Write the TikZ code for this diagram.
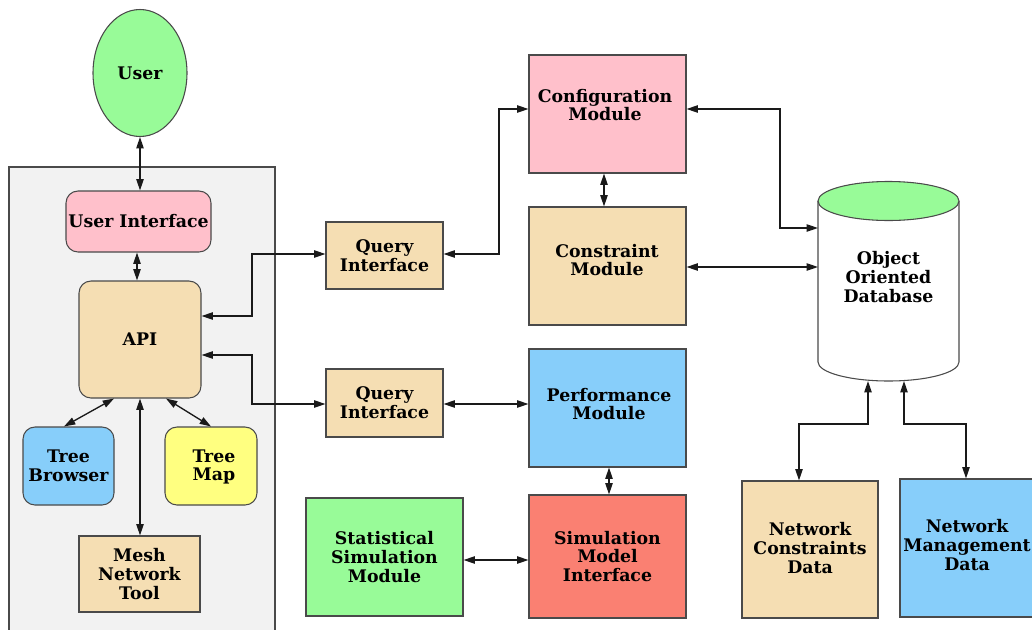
\documentclass[tikz,border=0pt]{standalone}
\usepackage{fontspec}
\setmainfont{DejaVu Serif}
\usetikzlibrary{arrows.meta,shapes.geometric,calc}
\definecolor{cpink}{HTML}{FFC0CB}
\definecolor{cwheat}{HTML}{F5DEB3}
\definecolor{csky}{HTML}{87CEFA}
\definecolor{csalmon}{HTML}{FA8072}
\definecolor{cgreen}{HTML}{98FB98}
\definecolor{cyellow}{HTML}{FFFF80}
\definecolor{cclust}{HTML}{F2F2F2}
\definecolor{cborder}{HTML}{4A4A4A}
\definecolor{cedge}{HTML}{1A1A1A}
\begin{document}
\begin{tikzpicture}[x=0.75pt,y=-0.75pt,
  box/.style={draw=cborder,line width=0.8pt,align=center,inner sep=0pt,
    font=\bfseries\fontsize{13}{14}\selectfont},
  lbl/.style={box,draw=none},
  rbox/.style={box,rounded corners=9pt},
  arr/.style={draw=cedge,line width=1pt,{Triangle[length=8.5pt,width=5.5pt]}-{Triangle[length=8.5pt,width=5.5pt]}}]
\useasboundingbox (0,0) rectangle (1032,629);
% cluster
\draw[draw=cborder,line width=0.8pt,fill=cclust] (9,167) rectangle (275,660);
% nodes
\node[box,ellipse,fill=cgreen,minimum width=94*0.75pt,minimum height=127*0.75pt] (user) at (140,73) {User};
\node[rbox,fill=cpink,minimum width=145*0.75pt,minimum height=61*0.75pt] (ui) at (138.5,221.5) {User Interface};
\node[rbox,fill=cwheat,minimum width=122*0.75pt,minimum height=117*0.75pt] (api) at (140,339.5) {API};
\node[rbox,fill=csky,minimum width=91*0.75pt,minimum height=78*0.75pt] (tb) at (68.5,466) {Tree\\Browser};
\node[rbox,fill=cyellow,minimum width=92*0.75pt,minimum height=78*0.75pt] (tm) at (211,466) {};
\node[lbl] (tmt) at (214,467) {Tree\\Map};
\node[box,fill=cwheat,minimum width=121*0.75pt,minimum height=76*0.75pt] (mesh) at (139.5,574) {Mesh\\Network\\Tool};
\node[box,fill=cwheat,minimum width=117*0.75pt,minimum height=67*0.75pt] (q1) at (384.5,255.5) {Query\\Interface};
\node[box,fill=cwheat,minimum width=117*0.75pt,minimum height=68*0.75pt] (q2) at (384.5,403) {Query\\Interface};
\node[box,fill=cpink,minimum width=157*0.75pt,minimum height=118*0.75pt] (conf) at (607.5,114) {};
\node[lbl] (conft) at (605,105) {Configuration\\Module};
\node[box,fill=cwheat,minimum width=157*0.75pt,minimum height=118*0.75pt] (cons) at (607.5,266) {};
\node[lbl] (const) at (607,260) {Constraint\\Module};
\node[box,fill=csky,minimum width=157*0.75pt,minimum height=118*0.75pt] (perf) at (607.5,408) {};
\node[lbl] (perft) at (609,404) {Performance\\Module};
\node[box,fill=csalmon,minimum width=157*0.75pt,minimum height=123*0.75pt] (sim) at (607.5,556.5) {Simulation\\Model\\Interface};
\node[box,fill=cgreen,minimum width=157*0.75pt,minimum height=118*0.75pt] (stat) at (384.5,557) {Statistical\\Simulation\\Module};
\node[box,fill=cwheat,minimum width=136*0.75pt,minimum height=137*0.75pt] (ncd) at (810,549.5) {};
\node[lbl] (ncdt) at (810,548) {Network\\Constraints\\Data};
\node[box,fill=csky,minimum width=136*0.75pt,minimum height=138*0.75pt] (nmd) at (968,548) {};
\node[lbl] (nmdt) at (967,545) {Network\\Management\\Data};
% database cylinder
\fill[white] (818,201) rectangle (959,362);
\fill[white] (818,362) arc[start angle=180,end angle=360,x radius=70.5,y radius=-19];
\draw[cborder,line width=0.8pt] (818,201) -- (818,362) arc[start angle=180,end angle=360,x radius=70.5,y radius=-19] -- (959,201);
\draw[cborder,line width=0.8pt,fill=cgreen] (888.5,201) ellipse[x radius=70.5,y radius=19.5];
\node[lbl] (db) at (888.5,277) {Object\\Oriented\\Database};
\coordinate (dbL1) at (818,228);
\coordinate (dbL2) at (818,267);
\coordinate (dbB1) at (868,381);
\coordinate (dbB2) at (904,381);
% edges
\draw[arr] (user) -- (ui.north -| user);
\draw[arr] (ui.south -| 137,0) -- (api.north -| 137,0);
\draw[arr] (api.south -| 114,0) -- (tb.north -| 64,0);
\draw[arr] (api.south -| 166,0) -- (tm.north -| 211,0);
\draw[arr] (api.south -| 140,0) -- (mesh.north -| 140,0);
\draw[arr] (api.east |- 0,316) -- (252,316) |- (q1.west |- 0,254);
\draw[arr] (api.east |- 0,355) -- (252,355) |- (q2.west |- 0,404);
\draw[arr] (q1.east |- 0,254) -| (499,109) -- (conf.west |- 0,109);
\draw[arr] (conf.south -| 604,0) -- (cons.north -| 604,0);
\draw[arr] (conf.east |- 0,109) -| (780,228) -- (dbL1);
\draw[arr] (cons.east |- dbL2) -- (dbL2);
\draw[arr] (q2.east |- 0,404) -- (perf.west |- 0,404);
\draw[arr] (perf.south -| 609,0) -- (sim.north -| 609,0);
\draw[arr] (stat.east |- 0,560) -- (sim.west |- 0,560);
\draw[arr] (dbB1) |- (799,424) -- (ncd.north -| 799,0);
\draw[arr] (dbB2) |- (966,424) -- (nmd.north -| 966,0);
\end{tikzpicture}
\end{document}
